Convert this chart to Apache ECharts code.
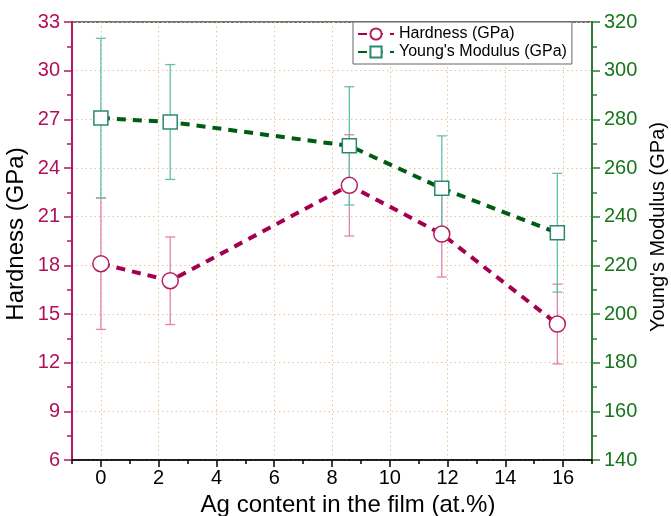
<!DOCTYPE html>
<html>
<head>
<meta charset="utf-8">
<script src="https://cdn.jsdelivr.net/npm/echarts@6/dist/echarts.min.js"></script>
<style>
  html, body { margin: 0; padding: 0; background: #fff; }
  #chart { width: 671px; height: 516px; }
</style>
</head>
<body>
<div id="chart"></div>
<script>
// Ag content (at.%) for each film
var agContent = [0, 2.4, 8.6, 11.8, 15.8]
// hardness (GPa) and its error
var hardness = [18.1, 17.05, 22.93, 19.93, 14.38]
var hardnessErr = [4.05, 2.7, 3.12, 2.65, 2.46]
// Young's modulus (GPa) and its error
var modulus = [280.5, 278.9, 269.1, 251.7, 233.4]
var modulusErr = [32.8, 23.6, 24.3, 21.5, 24.4]
// tick labels on the x axis
var xTicks = [0, 2, 4, 6, 8, 10, 12, 14, 16]

var FONT = 'Liberation Sans, Arial, sans-serif'
var C_H = '#a5004f'
var C_H_MARK = '#b3205f'
var C_H_ERR = '#e283ad'
var C_E = '#005c12'
var C_E_MARK = '#2a8a6e'
var C_E_ERR = '#62c0a8'

function pairs(xs, ys) {
  return xs.map(function (x, i) { return [x, ys[i]] })
}
function errData(xs, ys, es) {
  return xs.map(function (x, i) { return [x, ys[i] - es[i], ys[i] + es[i]] })
}
function errRender(color) {
  return function (params, api) {
    var x = api.value(0)
    var lo = api.coord([x, api.value(1)])
    var hi = api.coord([x, api.value(2)])
    var w = 5
    var st = { stroke: color, lineWidth: 1.3 }
    return {
      type: 'group',
      children: [
        { type: 'line', shape: { x1: hi[0], y1: hi[1], x2: lo[0], y2: lo[1] }, style: st },
        { type: 'line', shape: { x1: hi[0] - w, y1: hi[1], x2: hi[0] + w, y2: hi[1] }, style: st },
        { type: 'line', shape: { x1: lo[0] - w, y1: lo[1], x2: lo[0] + w, y2: lo[1] }, style: st }
      ]
    }
  }
}

var myChart = echarts.init(document.getElementById('chart'))
myChart.setOption({
  animation: false,
  textStyle: { fontFamily: FONT },
  grid: {
    left: 72, right: 79, top: 22, bottom: 56,
    show: true, borderColor: '#444', borderWidth: 1.5,
    outerBoundsMode: 'none'
  },
  legend: {
    orient: 'vertical',
    left: 353, top: 22,
    padding: [4, 5, 4, 4],
    itemGap: 2,
    itemWidth: 36, itemHeight: 14,
    backgroundColor: '#fff',
    borderColor: '#666', borderWidth: 1,
    textStyle: { fontSize: 16, color: '#000', fontFamily: FONT },
    data: ['Hardness (GPa)', "Young's Modulus (GPa)"]
  },
  xAxis: [
    {
      type: 'value',
      min: -1, max: 17,
      name: 'Ag content in the film (at.%)',
      nameLocation: 'middle',
      nameGap: 29,
      nameTextStyle: { fontSize: 24, color: '#000', padding: [0, 0, 0, 32] },
      axisLine: { onZero: false, lineStyle: { color: '#000', width: 1.5 } },
      axisTick: { customValues: xTicks, length: 7, lineStyle: { color: '#000', width: 1.5 } },
      axisLabel: { customValues: xTicks, fontSize: 20, color: '#000', margin: 8 },
      splitLine: { show: true, lineStyle: { color: '#e8c596', type: [1.5, 3], width: 1 } }
    },
    {
      type: 'value',
      min: -1, max: 17, interval: 1,
      position: 'bottom',
      axisLine: { show: false, onZero: false },
      axisTick: { length: 4, lineStyle: { color: '#000', width: 1.5 } },
      axisLabel: { show: false },
      splitLine: { show: false }
    }
  ],
  yAxis: [
    {
      type: 'value',
      min: 6, max: 33, interval: 3,
      position: 'left',
      name: 'Hardness (GPa)',
      nameLocation: 'middle',
      nameGap: 44,
      nameMoveOverlap: false,
      nameTextStyle: { fontSize: 24, color: '#000', padding: [0, 0, 0, 14] },
      axisLine: { show: true, onZero: false, lineStyle: { color: '#b3185c', width: 2 } },
      axisTick: { show: true, length: 8, lineStyle: { color: '#b3185c', width: 1.5 } },
      minorTick: { show: true, splitNumber: 2, length: 5, lineStyle: { color: '#b3185c', width: 1.5 } },
      axisLabel: { fontSize: 20, color: '#b0105a', margin: 12 },
      splitLine: { show: true, lineStyle: { color: '#e8c596', type: [1.5, 3], width: 1 } }
    },
    {
      type: 'value',
      min: 140, max: 320, interval: 20,
      position: 'right',
      name: "Young's Modulus (GPa)",
      nameLocation: 'middle',
      nameGap: 55,
      nameRotate: 90,
      nameTextStyle: { fontSize: 20, color: '#000', padding: [0, 0, 0, 28] },
      axisLine: { show: true, onZero: false, lineStyle: { color: '#2e7d32', width: 2 } },
      axisTick: { show: true, length: 8, lineStyle: { color: '#2e7d32', width: 1.5 } },
      minorTick: { show: true, splitNumber: 2, length: 5, lineStyle: { color: '#2e7d32', width: 1.5 } },
      axisLabel: { fontSize: 20, color: '#17761c', margin: 12 },
      splitLine: { show: false }
    }
  ],
  series: [
    {
      name: 'hardErr',
      type: 'custom',
      xAxisIndex: 0, yAxisIndex: 0,
      z: 1,
      encode: { x: 0, y: [1, 2] },
      renderItem: errRender(C_H_ERR),
      data: errData(agContent, hardness, hardnessErr)
    },
    {
      name: 'modErr',
      type: 'custom',
      xAxisIndex: 0, yAxisIndex: 1,
      z: 1,
      encode: { x: 0, y: [1, 2] },
      renderItem: errRender(C_E_ERR),
      data: errData(agContent, modulus, modulusErr)
    },
    {
      name: 'Hardness (GPa)',
      type: 'line',
      xAxisIndex: 0, yAxisIndex: 0,
      z: 3,
      symbol: 'circle', symbolSize: 16,
      lineStyle: { color: C_H, width: 4, type: [9, 7] },
      itemStyle: { color: '#fff', borderColor: C_H_MARK, borderWidth: 1.5 },
      data: pairs(agContent, hardness)
    },
    {
      name: "Young's Modulus (GPa)",
      type: 'line',
      xAxisIndex: 0, yAxisIndex: 1,
      z: 3,
      symbol: 'rect', symbolSize: 14,
      lineStyle: { color: C_E, width: 4, type: [9, 7] },
      itemStyle: { color: '#fff', borderColor: C_E_MARK, borderWidth: 1.5 },
      data: pairs(agContent, modulus)
    }
  ]
})
</script>
</body>
</html>
